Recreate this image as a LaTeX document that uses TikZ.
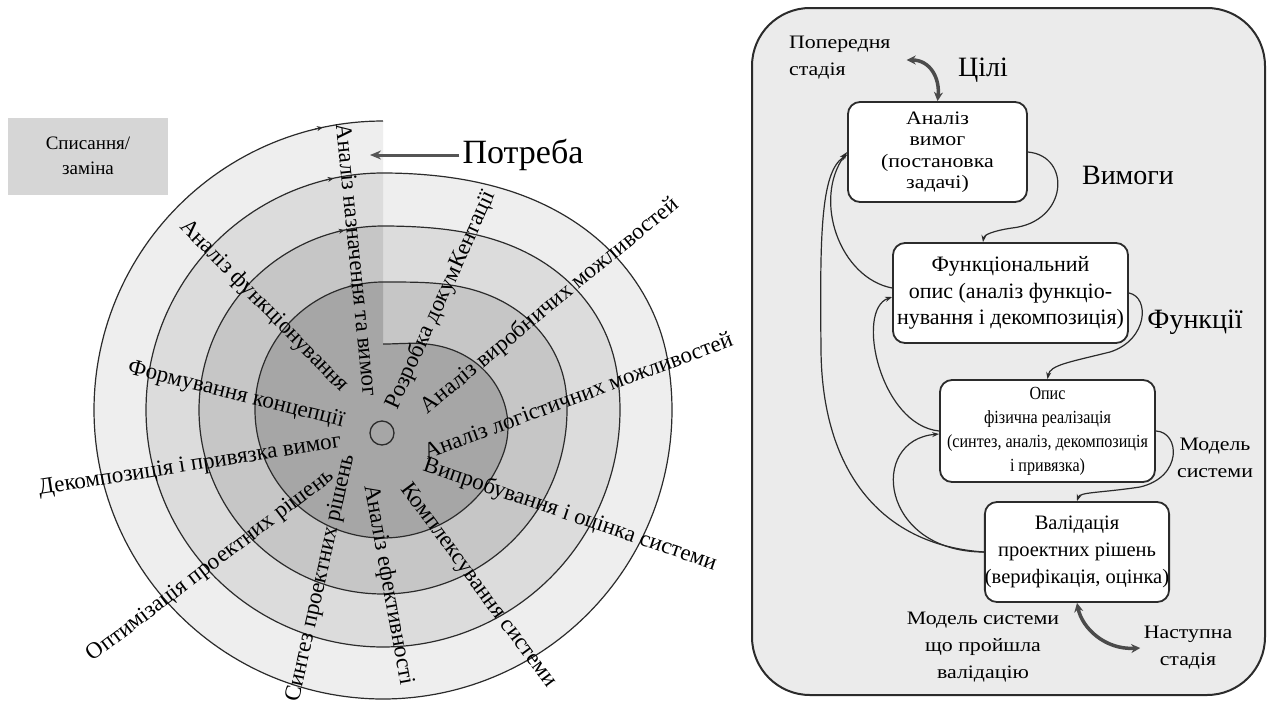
\documentclass[tikz,border=0pt]{standalone}
\usepackage{fontspec}
\setmainfont{Liberation Serif}
\newfontfamily\widefont[FakeStretch=1.15]{Liberation Serif}
\newfontfamily\narrowfont[FakeStretch=0.87]{Liberation Serif}
\usetikzlibrary{arrows.meta}

\definecolor{ringA}{HTML}{A6A6A6}
\definecolor{ringB}{HTML}{C6C6C6}
\definecolor{ringC}{HTML}{DCDCDC}
\definecolor{ringD}{HTML}{EEEEEE}
\definecolor{ink}{HTML}{2B2B2B}
\definecolor{panelbg}{HTML}{EBEBEB}
\definecolor{tagbg}{HTML}{D6D6D6}

\newcommand{\setfs}[2]{\fontsize{#1}{#2}\selectfont}

\tikzset{
  lbl/.style={font=\setfs{23}{26}, inner sep=0pt, anchor=center},
  stagebox/.style={draw=ink, line width=1.8pt, fill=white, rounded corners=12pt,
                   inner sep=0pt, align=center},
  flow/.style={draw=ink, line width=1.2pt, -{Stealth[length=7pt,width=5pt]}},
  bigflow/.style={draw=ink!85, line width=3.5pt,
                  {Stealth[length=9pt,width=9pt]}-{Stealth[length=9pt,width=9pt]}},
  spiralline/.style={draw=ink, line width=1.2pt},
  turnmark/.style={draw=ink, line width=1pt, -{Stealth[length=6pt,width=5pt]}},
}

\begin{document}
\begin{tikzpicture}[x=1pt, y=-1pt,
  declare function={rr(\s,\ri,\ro,\rp)=\ri+(\ro-\ri)*(1-cos(180*min(\s/\rp,1)))/2;}]
\useasboundingbox (0,0) rectangle (1270,702);
\fill[white] (0,0) rectangle (1270,702);

% ---------- spiral of stages (left) ----------
% each turn grows from the previous radius to the next one just after the top
\fill[ringD] plot[domain=0:360,samples=241,variable=\t]
  ({383+rr(\t,237,289,80)*sin(\t)},{410-rr(\t,237,289,80)*cos(\t)}) -- cycle;
\fill[ringC] plot[domain=0:360,samples=241,variable=\t]
  ({383+rr(\t,184,237,80)*sin(\t)},{410-rr(\t,184,237,80)*cos(\t)}) -- cycle;
\fill[ringB] plot[domain=0:360,samples=241,variable=\t]
  ({383+rr(\t,128,184,85)*sin(\t)},{410-rr(\t,128,184,85)*cos(\t)}) -- cycle;
\fill[ringA] plot[domain=0:360,samples=241,variable=\t]
  ({383+rr(\t,66,128,110)*sin(\t)},{410-rr(\t,66,128,110)*cos(\t)}) -- cycle;

\draw[spiralline]
  plot[domain=0:360,samples=241,variable=\t]
    ({383+rr(\t,66,128,110)*sin(\t)},{410-rr(\t,66,128,110)*cos(\t)})
  plot[domain=0:360,samples=241,variable=\t]
    ({383+rr(\t,128,184,85)*sin(\t)},{410-rr(\t,128,184,85)*cos(\t)})
  plot[domain=0:360,samples=241,variable=\t]
    ({383+rr(\t,184,237,80)*sin(\t)},{410-rr(\t,184,237,80)*cos(\t)})
  plot[domain=0:360,samples=241,variable=\t]
    ({383+rr(\t,237,289,80)*sin(\t)},{410-rr(\t,237,289,80)*cos(\t)});

% direction marks at the end of every turn
\foreach \R in {128,184,237,289}{
  \draw[turnmark] ({383-0.2079*\R-7.8},{410-0.9781*\R+1.7}) -- ({383-0.2079*\R},{410-0.9781*\R});
}

% centre of the spiral
\node[draw=ink, line width=1.3pt, circle, minimum size=24pt, inner sep=0pt] (core) at (382,433) {};

% stage labels along the spokes
\node[lbl, rotate=-84.3] (s1)  at (357,260) {Аналіз назначення та вимог};
\node[lbl, rotate=65.5]  (s2)  at (441,300) {Розробка докумКентації};
\node[lbl, rotate=39.5]  (s3)  at (550,306) {Аналіз виробничих можливостей};
\node[lbl, rotate=20.3]  (s4)  at (578,395) {Аналіз логістичних можливостей};
\node[lbl, rotate=-18.8] (s5)  at (570,515) {Випробування і оцінка системи};
\node[lbl, rotate=-53.6] (s6)  at (478,586) {Комплексування системи};
\node[lbl, rotate=-79.7] (s7)  at (388,585) {Аналіз ефективності};
\node[lbl, rotate=77.4]  (s8)  at (321,578) {Синтез проектних рішень};
\node[lbl, rotate=37.1]  (s9)  at (211,566) {Оптимізація проектних рішень};
\node[lbl, rotate=8.9]   (s10) at (190,466) {Декомпозиція і привязка вимог};
\node[lbl, rotate=-13.9] (s11) at (236,395) {Формування концепції};
\node[lbl, rotate=-45.6] (s12) at (264,306) {Аналіз функціонування};

% need entering the spiral
\node[font=\setfs{34}{36}, inner sep=3pt] (need) at (523,155) {Потреба};
\coordinate (needtip) at (370,155);
\draw[ink!80, line width=3pt, -{Stealth[length=11pt,width=9pt]}] (need.west) -- (needtip);

% disposal tag
\node[fill=tagbg, minimum width=160pt, minimum height=77pt, inner sep=0pt,
      font=\setfs{19}{25}, align=center] (dispose) at (88,156) {Списання/\\заміна};

% ---------- design loop (right) ----------
\draw[ink, line width=2pt, fill=panelbg, rounded corners=58pt] (752,8) rectangle (1265,695);

\node[stagebox, minimum width=179pt, minimum height=100pt, font=\widefont\setfs{19}{21.5}]
  (anl) at (937.5,152) {Аналіз\\вимог\\(постановка\\задачі)};
\node[stagebox, minimum width=235pt, minimum height=100pt, font=\setfs{22}{26.5}]
  (fun) at (1010.5,293) {Функціональний\\опис (аналіз функціо-\\нування і декомпозиція)};
\node[stagebox, minimum width=215pt, minimum height=102pt, font=\narrowfont\setfs{18.5}{24}]
  (phy) at (1047.5,431) {Опис\\фізична реалізація\\(синтез, аналіз, декомпозиція\\і привязка)};
\node[stagebox, minimum width=180pt, minimum height=100pt, font=\setfs{20.5}{27}]
  (val) at (1077,552) {Валідація\\проектних рішень\\(верифікація, оцінка)};

\node[font=\widefont\setfs{19}{27}, align=left, anchor=west, inner sep=2pt]
  (prev) at (787,58) {Попередня\\стадія};
\node[font=\setfs{28}{30}] (goal) at (983,70) {Цілі};
\node[font=\setfs{28}{30}] (req) at (1128,175) {Вимоги};
\node[font=\setfs{28}{30}] (func) at (1195,322) {Функції};
\node[font=\widefont\setfs{19}{27}, align=center] (model) at (1215,458) {Модель\\системи};
\node[font=\widefont\setfs{19}{27}, align=center] (valid) at (983,647) {Модель системи\\що пройшла\\валідацію};
\node[font=\widefont\setfs{19}{27}, align=center] (next) at (1188,648) {Наступна\\стадія};

% forward flow
\draw[flow] (anl.east) .. controls (1072,156) and (1068,222) .. (1012,228)
            .. controls (992,231) and (984,235) .. ([xshift=-27.5pt]fun.north);
\draw[flow] (fun.east) .. controls (1150,297) and (1148,340) .. (1110,352)
            .. controls (1070,362) and (1050,365) .. (phy.north);
\draw[flow] (phy.east) .. controls (1180,432) and (1183,477) .. (1140,487)
            .. controls (1100,493) and (1080,492) .. (val.north);

% feedback loops
\draw[flow] ([yshift=5pt]fun.west) .. controls (840,278) and (812,200) .. (anl.west);
\draw[flow] (phy.west) .. controls (880,425) and (855,310) .. ([yshift=-4pt]fun.west);
\draw[flow] (val.west) .. controls (880,552) and (868,440) .. ([yshift=-3pt]phy.west);
\draw[flow] (val.west) .. controls (880,545) and (822,470) .. (821,350)
            .. controls (820,240) and (820,172) .. ([yshift=-3pt]anl.west);

% links to neighbouring stages
\draw[bigflow] ([shift={(14pt,-2pt)}]prev.east) .. controls (930,60) and (940,78) .. (anl.north);
\draw[bigflow] (val.south) .. controls (1082,628) and (1105,650) .. (next.west);
\end{tikzpicture}
\end{document}
